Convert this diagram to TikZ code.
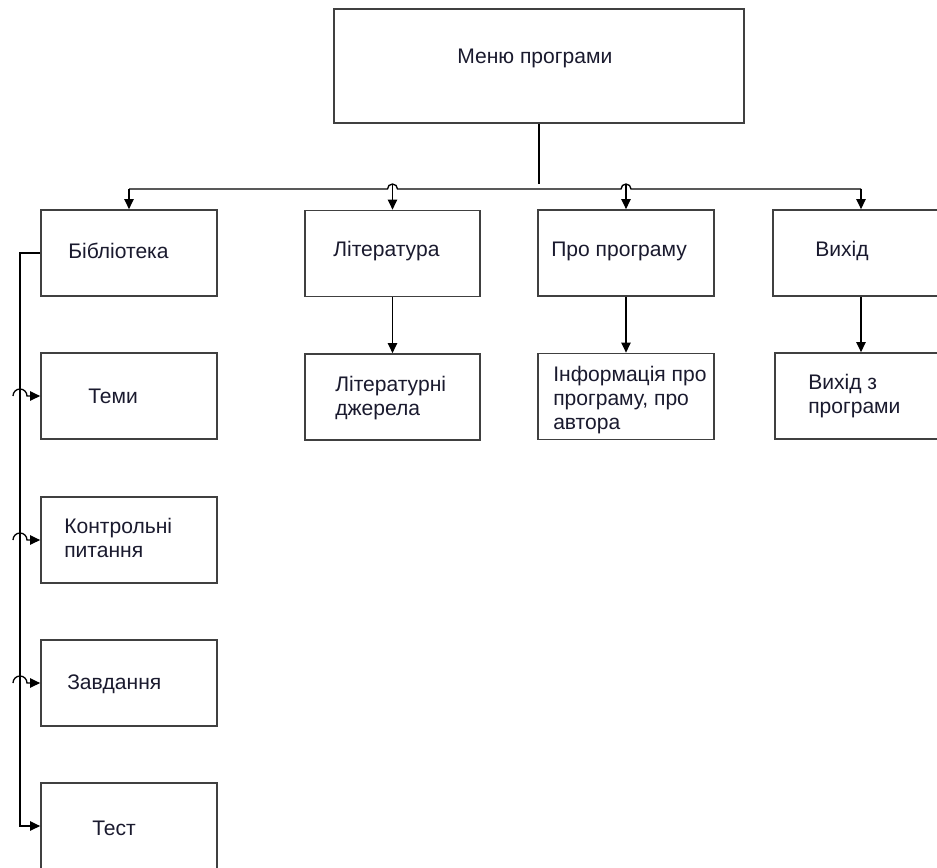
\documentclass[tikz,border=0pt]{standalone}
\usepackage{fontspec}
\setmainfont{Liberation Sans}
\usepackage{xcolor}
\usepackage{tikz}
\usetikzlibrary{arrows.meta,positioning,calc}
\definecolor{boxline}{HTML}{404040}
\definecolor{txtcolor}{HTML}{1A1A2E}

\begin{document}
\begin{tikzpicture}[x=0.75pt,y=0.75pt,
  box/.style={draw=boxline, line width=1.3pt, minimum width=132pt, minimum height=64.5pt, inner sep=0pt},
  txt/.style={font=\fontsize{15.8}{18}\selectfont, text=txtcolor, align=left, anchor=west, inner sep=0pt},
  link/.style={line width=1pt, -{Triangle[length=7.5pt,width=7pt]}}]
\useasboundingbox (0,0) rectangle (937,-867);
\fill[white] (0,0) rectangle (937,-867);
% menu
\node[box, minimum width=307.5pt, minimum height=85.5pt] (menu) at (539,-66) {};
\node[txt] (menut) at (457,-58) {Меню програми};
% first row
\node[box] (bib) at (129,-253) {};
\node[box, minimum width=131.25pt] (lit) at (392.5,-253.5) {};
\node[box] (pro) at (626,-253) {};
\node[box] (exit) at (861,-253) {};
\node[txt] (bibt) at (68,-251) {Бібліотека};
\node[txt] (litt) at (333,-251) {Література};
\node[txt] (prot) at (551,-251) {Про програму};
\node[txt] (exitt) at (815,-251) {Вихід};
% second row
\node[box] (temy) at (129,-396) {};
\node[box, minimum width=131.25pt] (litsrc) at (392.5,-397) {};
\node[box] (info) at (626,-396.5) {};
\node[box] (exitprog) at (863,-396) {};
\node[txt] (temyt) at (88,-396) {Теми};
\node[txt] (litsrct) at (335,-398) {Літературні\\джерела};
\node[txt] (infot) at (553,-400) {Інформація про\\програму, про\\автора};
\node[txt] (exitprogt) at (808,-396) {Вихід з\\програми};
% left column
\node[box] (kontr) at (129,-540) {};
\node[box] (zavd) at (129,-683) {};
\node[box] (test) at (129,-826) {};
\node[txt] (kontrt) at (64,-538) {Контрольні\\питання};
\node[txt] (zavdt) at (67,-684) {Завдання};
\node[txt] (testt) at (92,-828) {Тест};
% bus from menu
\coordinate (bus) at (539,-189);
\draw[line width=1pt] (menu.south) -- ($(menu.south)+(0,-60)$);
\draw[line width=1pt] (bib.north |- bus) -- ($(lit.north |- bus)+(-5,0)$) arc(180:0:5)
  -- ($(pro.north |- bus)+(-5,0)$) arc(180:0:5) -- (exit.north |- bus);
\draw[link] (bib.north |- bus) -- (bib.north);
\draw[link] ($(lit.north |- bus)+(0,5)$) -- (lit.north);
\draw[link] ($(pro.north |- bus)+(0,5)$) -- (pro.north);
\draw[link] (exit.north |- bus) -- (exit.north);
% second level
\draw[link] (lit.south) -- (litsrc.north);
\draw[link] (pro.south) -- (info.north);
\draw[link] (exit.south) -- (exit.south |- exitprog.north);
% library rail
\coordinate (rail) at (20,-253);
\draw[link] (bib.west) -- (rail) -- (rail |- test.west) -- (test.west);
\foreach \n in {temy,kontr,zavd}
  \draw[link] ($(rail |- \n.west)+(-7,0)$) arc(180:0:7) -- (\n.west);
\end{tikzpicture}
\end{document}
